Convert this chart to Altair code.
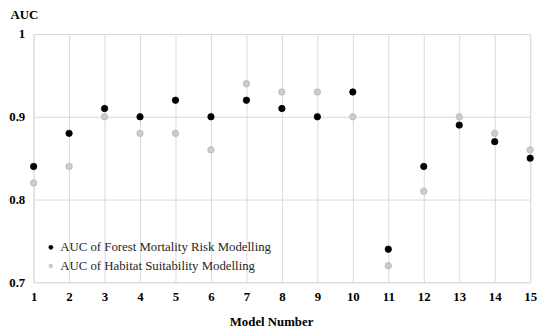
import altair as alt
import pandas as pd

models = list(range(1, 16))
forest_auc = [0.84, 0.88, 0.91, 0.90, 0.92, 0.90, 0.92, 0.91, 0.90, 0.93, 0.74, 0.84, 0.89, 0.87, 0.85]
habitat_auc = [0.82, 0.84, 0.90, 0.88, 0.88, 0.86, 0.94, 0.93, 0.93, 0.90, 0.72, 0.81, 0.90, 0.88, 0.86]
series_names = ["AUC of Forest Mortality Risk Modelling", "AUC of Habitat Suitability Modelling"]
y_ticks = [0.7, 0.8, 0.9, 1.0]

rows = []
for m, f, h in zip(models, forest_auc, habitat_auc):
    rows.append({"model": m, "auc": f, "series": series_names[0]})
    rows.append({"model": m, "auc": h, "series": series_names[1]})
df = pd.DataFrame(rows)

FONT = "Liberation Serif"

chart = alt.Chart(df).mark_point(filled=True, size=42, opacity=1, strokeWidth=0.8).encode(
    x=alt.X("model:Q",
            scale=alt.Scale(domain=[1, 15], nice=False, zero=False),
            axis=alt.Axis(values=models, format="d", title="Model Number",
                          labelFont=FONT, labelFontSize=13, labelFontWeight="bold", labelColor="#000000",
                          labelPadding=8, ticks=False, domain=False,
                          grid=True, gridColor="#d9d9d9", gridWidth=1,
                          titleFont=FONT, titleFontSize=13, titleFontWeight="bold", titleColor="#000000",
                          titleX=241, titleY=40, titleBaseline="middle", titleAlign="center",
                          labelFlush=False)),
    y=alt.Y("auc:Q",
            scale=alt.Scale(domain=[0.7, 1.0], nice=False, zero=False),
            axis=alt.Axis(values=y_ticks, labelExpr="datum.value == 1 ? '1' : format(datum.value, '.1f')",
                          labelFont=FONT, labelFontSize=13, labelFontWeight="bold", labelColor="#000000",
                          labelPadding=9, ticks=False, domain=False,
                          grid=True, gridColor="#d9d9d9", gridWidth=1,
                          title="AUC", titleAngle=0, titleX=-24, titleY=-20,
                          titleAlign="left", titleBaseline="middle",
                          titleFont=FONT, titleFontSize=13, titleFontWeight="bold", titleColor="#000000",
                          labelFlush=False)),
    color=alt.Color("series:N",
                    scale=alt.Scale(domain=series_names, range=["#000000", "#cccccc"]),
                    legend=alt.Legend(title=None, orient="none", legendX=11, legendY=210,
                                      labelFont=FONT, labelFontSize=13, labelColor="#262626",
                                      labelLimit=0,
                                      symbolSize=22, symbolType="circle", symbolStrokeWidth=0,
                                      padding=0, rowPadding=5, labelOffset=3)),
    stroke=alt.Stroke("series:N",
                      scale=alt.Scale(domain=series_names, range=["#000000", "#b5b5b5"]),
                      legend=None),
    order=alt.Order("series:N", sort="descending"),
).properties(
    width=504, height=252,
    autosize=alt.AutoSizeParams(type="none"),
    padding={"left": 26, "top": 24, "right": 12, "bottom": 48},
).configure_view(stroke=None).configure(background="#ffffff")

chart.save("out.html", embed_options={"renderer": "svg", "actions": False})
